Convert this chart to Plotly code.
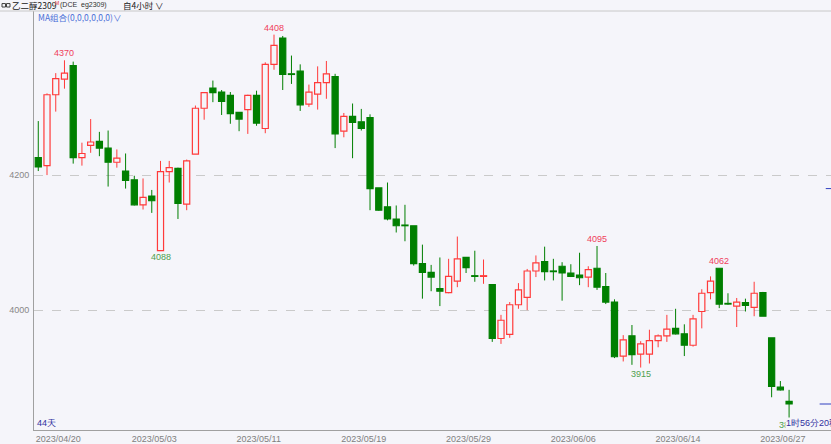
import plotly.graph_objects as go

# 乙二醇2309 4小时K线, 开高低收
open_ = [4226, 4214, 4319, 4342, 4362, 4226, 4244, 4250, 4240, 4219,
         4206, 4193, 4156, 4169, 4088, 4205, 4210, 4157, 4231, 4299,
         4329, 4323, 4318, 4293, 4297, 4318, 4269, 4364, 4403, 4350,
         4354, 4305, 4320, 4337, 4346, 4265, 4287, 4279, 4285, 4181,
         4153, 4135, 4126, 4125, 4069, 4056, 4032, 4026, 4043, 4078,
         4051, 4050, 4038, 3958, 3964, 4008, 4019, 4058, 4072, 4058,
         4065, 4055, 4052, 4049, 4062, 4035, 4012, 3932, 3962, 3935,
         3935, 3955, 3962, 3973, 3965, 3948, 3998, 4026, 4062, 4010,
         4006, 4011, 4004, 4026, 3959, 3886, 3865]
high = [4280, 4321, 4351, 4370, 4368, 4248, 4283, 4264, 4266, 4238,
        4232, 4199, 4195, 4178, 4221, 4221, 4211, 4223, 4303, 4323,
        4340, 4326, 4323, 4293, 4319, 4325, 4367, 4408, 4406, 4377,
        4364, 4334, 4361, 4369, 4350, 4292, 4306, 4298, 4290, 4181,
        4189, 4155, 4156, 4125, 4097, 4067, 4078, 4076, 4109, 4078,
        4088, 4075, 4038, 3993, 4012, 4040, 4061, 4081, 4094, 4076,
        4071, 4068, 4085, 4065, 4095, 4055, 4016, 3963, 3978, 3954,
        3971, 3964, 3993, 4002, 3979, 3993, 4031, 4050, 4062, 4025,
        4018, 4017, 4042, 4027, 3959, 3895, 3882]
low = [4206, 4200, 4294, 4328, 4217, 4214, 4233, 4228, 4183, 4211,
       4180, 4155, 4149, 4144, 4088, 4189, 4135, 4148, 4231, 4282,
       4308, 4289, 4276, 4265, 4261, 4273, 4262, 4356, 4326, 4335,
       4295, 4301, 4297, 4313, 4240, 4256, 4225, 4266, 4148, 4147,
       4133, 4115, 4102, 4066, 4017, 4028, 4006, 4025, 4034, 4055,
       4042, 4039, 3953, 3950, 3959, 4002, 4000, 4049, 4044, 4044,
       4014, 4049, 4037, 4034, 4030, 4009, 3929, 3924, 3919, 3915,
       3921, 3945, 3953, 3964, 3932, 3946, 3973, 4016, 4003, 4008,
       3975, 3998, 3991, 3991, 3871, 3881, 3839]
close = [4212, 4319, 4343, 4351, 4226, 4232, 4249, 4240, 4219, 4225,
         4192, 4156, 4167, 4162, 4205, 4211, 4158, 4221, 4299, 4322,
         4322, 4309, 4291, 4283, 4318, 4277, 4364, 4392, 4349, 4349,
         4304, 4323, 4337, 4350, 4261, 4287, 4278, 4269, 4180, 4148,
         4135, 4125, 4125, 4069, 4056, 4049, 4028, 4050, 4076, 4063,
         4050, 4051, 3958, 3985, 4008, 4030, 4058, 4070, 4057, 4057,
         4055, 4050, 4048, 4060, 4034, 4012, 3931, 3956, 3934, 3950,
         3955, 3962, 3972, 3965, 3948, 3987, 4025, 4043, 4009, 4009,
         4012, 4007, 4025, 3991, 3887, 3882, 3861]

date_ticks = [0, 11, 23, 35, 47, 59, 71, 83]
date_labels = ["2023/04/20", "2023/05/03", "2023/05/11", "2023/05/19",
               "2023/05/29", "2023/06/06", "2023/06/14", "2023/06/27"]

price_ticks = [4000, 4200]

# 图上标出的高低点 (K线序号, 类型)
marks = [(3, "high"), (14, "low"), (27, "high"), (64, "high"),
         (69, "low"), (78, "high"), (86, "low")]

side_mark = 4180   # 右侧小标记

BG = "#f5f5fa"
RED = "#ff3a3a"
GREEN = "#007f00"
AXIS = "#a0a0a0"

W, H = 831, 444
L, R, T, B = 34, 0, 11, 11


def px(xp):
    return (xp - L) / (W - L - R)


def py(yp):
    return (H - B - yp) / (H - T - B)


x = list(range(len(close)))
up = [i for i in x if close[i] >= open_[i]]
down = [i for i in x if close[i] < open_[i]]


def wicks(idx):
    xs, ys = [], []
    for i in idx:
        top = max(open_[i], close[i])
        bot = min(open_[i], close[i])
        xs += [i, i, None, i, i, None]
        ys += [top, high[i], None, low[i], bot, None]
    return xs, ys


fig = go.Figure()

for idx, col in [(up, RED), (down, GREEN)]:
    wx, wy = wicks(idx)
    fig.add_trace(go.Scatter(x=wx, y=wy, mode="lines",
                             line=dict(color=col, width=1), hoverinfo="skip"))

fig.add_trace(go.Bar(
    x=up, base=[open_[i] for i in up],
    y=[max(close[i] - open_[i], 0.5) for i in up],
    width=0.7, marker=dict(color=BG, line=dict(color=RED, width=1.2)),
))
fig.add_trace(go.Bar(
    x=down, base=[close[i] for i in down],
    y=[open_[i] - close[i] for i in down],
    width=0.7, marker=dict(color=GREEN, line=dict(color=GREEN, width=1.2)),
))

ann = []
for i, kind in marks:
    if kind == "high":
        ann.append(dict(x=i, y=high[i], text=str(high[i]), showarrow=False,
                        yanchor="bottom", yshift=0,
                        font=dict(color="#f0405a", size=9)))
    else:
        ann.append(dict(x=i, y=low[i], text=str(low[i]), showarrow=False,
                        yanchor="top", yshift=1,
                        font=dict(color="#4f9f4f", size=9)))

# 左下角 / 右下角文字
ann.append(dict(xref="paper", yref="paper", x=px(35), y=py(426), text="44天",
                showarrow=False, xanchor="left", yanchor="middle",
                font=dict(color="#3030a0", size=9)))
ann.append(dict(xref="paper", yref="paper", x=px(785), y=py(426),
                text="1时56分20秒", showarrow=False, xanchor="left",
                yanchor="middle", bgcolor=BG, borderpad=0,
                font=dict(color="#3030a0", size=9)))

# 标题栏
head = dict(family="Noto Sans CJK SC", color="#202020", size=8.5)
ann.append(dict(xref="paper", yref="paper", x=px(10), y=py(5),
                text="乙二醇2309", showarrow=False, xanchor="left",
                yanchor="middle", font=head))
ann.append(dict(xref="paper", yref="paper", x=px(53), y=py(3),
                text="M", showarrow=False, xanchor="left",
                yanchor="middle", font=dict(color="#e03030", size=5)))
ann.append(dict(xref="paper", yref="paper", x=px(58), y=py(5),
                text="(DCE  eg2309)", showarrow=False, xanchor="left",
                yanchor="middle", font=dict(color="#303030", size=7)))
ann.append(dict(xref="paper", yref="paper", x=px(121), y=py(5),
                text="自4小时 ∨", showarrow=False, xanchor="left",
                yanchor="middle", font=head))
ann.append(dict(xref="paper", yref="paper", x=px(36), y=py(17),
                text="MA组合(0,0,0,0,0,0)∨", showarrow=False,
                xanchor="left", yanchor="middle",
                font=dict(family="Noto Sans CJK SC", color="#4a6fd8", size=8.5)))

shapes = [
    dict(type="line", xref="paper", yref="paper", x0=px(0), x1=1,
         y0=1, y1=1, line=dict(color="#c8c8c8", width=1)),
    dict(type="rect", xref="paper", yref="paper", x0=px(2), x1=px(5.5),
         y0=py(7), y1=py(3.5), line=dict(color="#404040", width=1)),
    dict(type="rect", xref="paper", yref="paper", x0=px(6.5), x1=px(10),
         y0=py(7), y1=py(3.5), line=dict(color="#404040", width=1)),
    dict(type="line", xref="x", yref="y", x0=89.5, x1=90.8,
         y0=close[-1], y1=close[-1], line=dict(color="#3040c0", width=1)),
    dict(type="line", xref="x", yref="y", x0=90.2, x1=90.8,
         y0=side_mark, y1=side_mark, line=dict(color="#3040c0", width=1)),
]

fig.update_layout(
    width=W, height=H,
    margin=dict(l=L, r=R, t=T, b=B),
    paper_bgcolor=BG, plot_bgcolor=BG,
    showlegend=False, barmode="overlay",
    font=dict(family="Liberation Sans", size=9, color="#808080"),
    annotations=ann, shapes=shapes,
    xaxis=dict(range=[-0.49, 90.8], showgrid=False, zeroline=False,
               showline=True, linecolor=AXIS, linewidth=1,
               tickvals=[t - 0.35 for t in date_ticks], ticktext=date_labels,
               ticks="", ticklabelposition="outside right",
               tickfont=dict(size=9, color="#808080")),
    yaxis=dict(range=[3822.5, 4443], tickvals=price_ticks, zeroline=False,
               showgrid=True, gridcolor="#cacaca", griddash="dash",
               showline=True, linecolor=AXIS, linewidth=1, ticks="",
               ticklabelstandoff=2, tickfont=dict(size=9, color="#888888")),
)

fig.write_html(
    "out.html",
    config={"displayModeBar": False},
    post_script="document.body.style.margin='0';"
                "document.body.style.background='#f5f5fa';",
)
